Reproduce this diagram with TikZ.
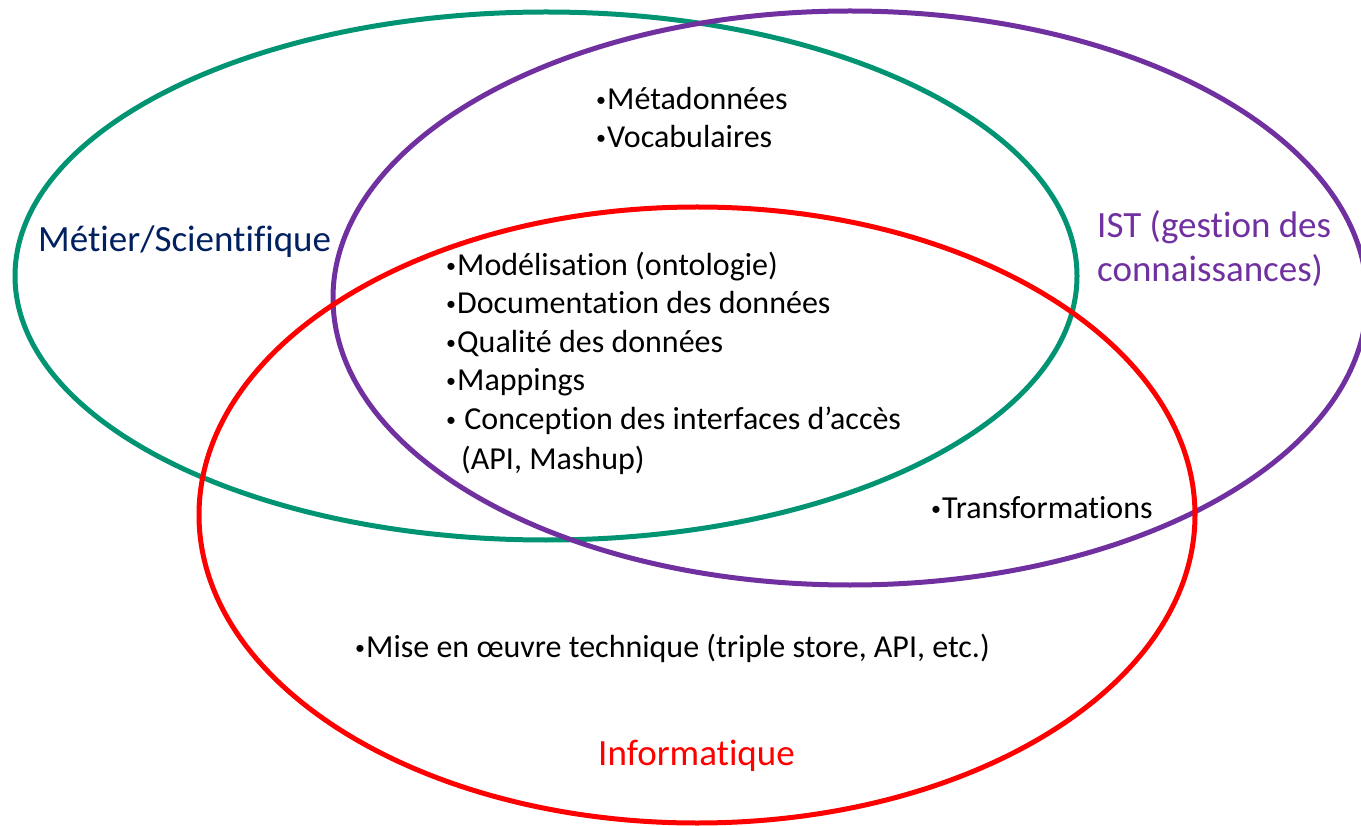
\documentclass[tikz,border=0pt]{standalone}
\usepackage{fontspec}
\setmainfont{Carlito}[Ligatures={NoCommon}]
\definecolor{metiergreen}{RGB}{0,148,115}
\definecolor{istpurple}{RGB}{112,48,160}
\definecolor{infored}{RGB}{255,0,0}
\definecolor{metiernavy}{RGB}{0,32,96}
\newcommand{\itemdot}{\raisebox{3pt}{\fontsize{20}{20}\selectfont •}\hspace{1pt}}

\begin{document}
\begin{tikzpicture}[
    x=1pt, y=-1pt,
    ring/.style={line width=5pt},
    item_text/.style={anchor=base west, inner sep=0pt, font=\fontsize{32}{38}\selectfont},
    title_text/.style={anchor=base west, inner sep=0pt, font=\fontsize{37}{44}\selectfont}
]
    \useasboundingbox (0,0) rectangle (1361,826);
    \draw[ring, metiergreen] (546,276) ellipse [x radius=531, y radius=264];
    \draw[ring, istpurple] (850,298) ellipse [x radius=517, y radius=287];
    \draw[ring, infored] (697,515) ellipse [x radius=498, y radius=308];

    \node[title_text, metiernavy] (metier) at (38,252) {Métier/Scientifique};
    \node[title_text, istpurple] (ist1) at (1097,238) {IST (gestion des};
    \node[title_text, istpurple] (ist2) at (1097,282) {connaissances)};
    \node[title_text, infored] (info) at (598,765) {Informatique};

    \node[item_text] (meta) at (596,110) {\itemdot Métadonnées};
    \node[item_text] (voca) at (596,148) {\itemdot Vocabulaires};
    \node[item_text] (model) at (446,276) {\itemdot Modélisation (ontologie)};
    \node[item_text] (doc) at (446,314) {\itemdot Documentation des données};
    \node[item_text] (qual) at (446,353) {\itemdot Qualité des données};
    \node[item_text] (map) at (446,391) {\itemdot Mappings};
    \node[item_text] (concep) at (446,430) {\itemdot\ Conception des interfaces d’accès};
    \node[item_text] (api) at (461,469) {(API, Mashup)};
    \node[item_text] (trans) at (931,518) {\itemdot Transformations};
    \node[item_text] (mise) at (355,657) {\itemdot Mise en œuvre technique (triple store, API, etc.)};
\end{tikzpicture}
\end{document}
